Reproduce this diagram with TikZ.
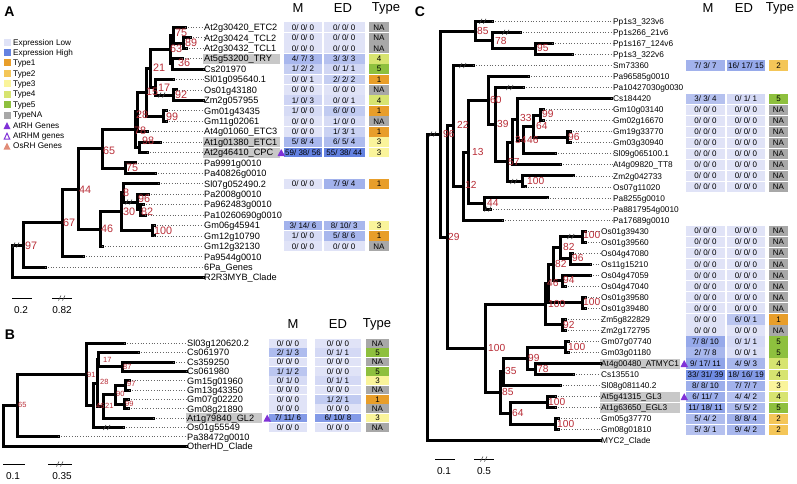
\documentclass[tikz,border=0pt]{standalone}
\usepackage{fontspec}
\setmainfont{Liberation Sans}
\definecolor{exlow}{RGB}{224,227,247}
\definecolor{exhigh}{RGB}{100,130,225}
\definecolor{type1}{RGB}{232,158,42}
\definecolor{type2}{RGB}{244,198,88}
\definecolor{type3}{RGB}{250,244,155}
\definecolor{type4}{RGB}{215,228,112}
\definecolor{type5}{RGB}{142,192,62}
\definecolor{typeNA}{RGB}{168,168,168}
\definecolor{nodered}{RGB}{185,45,55}
\definecolor{lgray}{RGB}{200,200,200}
\definecolor{triv}{RGB}{128,50,215}
\definecolor{osrh}{RGB}{225,140,120}
\newcommand{\tip}[5]{\node[tipcur] (#1) at (\labx,#4) {#5};\draw[br] (#2,#4) -- (#3,#4);\draw[dotl] (#3,#4) -- (#1.west);}
\newcommand{\vb}[3]{\draw[br] (#1,#2) -- (#1,#3);}
\newcommand{\hb}[3]{\draw[br] (#1,#3) -- (#2,#3);}
\newcommand{\gbox}[2]{\fill[lgray] (\labx-1.5,#1-5) rectangle (#2,#1+5);}
\newcommand{\rc}[6]{%
 \fill[exhigh!#3!exlow] (\mxa,#1-\hh) rectangle (\mxb,#1+\hh);
 \node[cell] at ({(\mxa+\mxb)/2},#1) {#2};
 \fill[exhigh!#5!exlow] (\exa,#1-\hh) rectangle (\exb,#1+\hh);
 \node[cell] at ({(\exa+\exb)/2},#1) {#4};
 \fill[type#6] (\txa,#1-\hh) rectangle (\txb,#1+\hh);
 \node[cell] at ({(\txa+\txb)/2},#1) {#6};}
\newcommand{\rz}[1]{\rc{#1}{0/ 0/ 0}{0}{0/ 0/ 0}{0}{NA}}
\newcommand{\nl}[3]{\node[nlcur] at (#1,#2) {#3};}
\newcommand{\brk}[2]{\draw[brkst] (#1-3.5,#2+2.5) -- (#1-1,#2-2.5) (#1+0.5,#2+2.5) -- (#1+3,#2-2.5);}
\newcommand{\lsq}[3]{\fill[#1] (3.5,#2-3.5) rectangle (10.5,#2+3.5);\node[leg] at (13,#2) {#3};}
\begin{document}
\begin{tikzpicture}[x=1pt,y=-1pt,
 br/.style={line width=3pt,line cap=rect},
 dotl/.style={line width=0.75pt,dash pattern=on 0.75pt off 2pt,black!60},
 brkst/.style={line width=0.6pt,black!75},
 tiplab/.style={anchor=west,inner sep=0pt,font=\fontsize{9.2}{10}\selectfont,text height=7.4pt,text depth=0.8pt},
 tiplabC/.style={tiplab,font=\fontsize{8.3}{10}\selectfont,text height=7pt},
 tipcur/.style={tiplab},
 nlA/.style={anchor=west,inner sep=0pt,text=nodered,font=\fontsize{10.8}{12}\selectfont},
 nlB/.style={nlA,font=\fontsize{7.5}{9}\selectfont},
 nlC/.style={nlA,font=\fontsize{10.2}{12}\selectfont},
 nlcur/.style={nlA},
 cell/.style={inner sep=0pt,font=\fontsize{8}{9}\selectfont,text height=5.7pt,text depth=0pt},
 leg/.style={anchor=west,inner sep=0pt,font=\fontsize{8.2}{9}\selectfont,text height=5.9pt,text depth=0pt},
 hdr/.style={inner sep=0pt,font=\fontsize{13}{15}\selectfont},
 plet/.style={inner sep=0pt,font=\bfseries\fontsize{14}{16}\selectfont},
 sbl/.style={inner sep=0pt,font=\fontsize{10}{12}\selectfont},
 sbar/.style={line width=0.7pt}]
\path[use as bounding box,fill=white] (0,0) rectangle (797,483);

% ================= Panel A =================
\node[plet] (pA) at (9.5,12) {A};
\lsq{exlow}{42.7}{Expression Low}
\lsq{exhigh}{52.7}{Expression High}
\lsq{type1}{62.7}{Type1}
\lsq{type2}{73.3}{Type2}
\lsq{type3}{83.7}{Type3}
\lsq{type4}{94}{Type4}
\lsq{type5}{104.7}{Type5}
\lsq{typeNA}{115}{TypeNA}
\fill[triv] (3.5,129.2) -- (10.5,129.2) -- (7,122.2) -- cycle; \node[leg] at (13,125.7) {AtRH Genes};
\draw[triv,line width=1pt] (4.2,139.2) -- (9.8,139.2) -- (7,133.2) -- cycle; \node[leg] at (13,136) {AtRHM genes};
\fill[osrh] (3.5,149.5) -- (10.5,149.5) -- (7,142.5) -- cycle; \node[leg] at (13,146) {OsRH Genes};

\node[hdr] (hAM) at (298,8) {M};
\node[hdr] (hAE) at (343,8) {ED};
\node[hdr] (hAT) at (386,8) {Type};

\def\labx{204}
\gbox{58.6}{280}\gbox{142.0}{280}\gbox{152.5}{280}
\vb{183}{37.7}{48.2}
\vb{173}{27.3}{43.0} \hb{173}{183}{43.0}
\vb{172}{58.6}{69.0}
\vb{170}{35.1}{63.8} \hb{170}{173}{35.1} \hb{170}{172}{63.8}
\vb{173}{89.9}{100.3}
\vb{155}{79.5}{95.1} \hb{155}{173}{95.1}
\vb{150}{49.5}{87.3} \hb{150}{170}{49.5} \hb{150}{155}{87.3}
\vb{163}{110.7}{121.2}
\vb{146}{68.4}{116.0} \hb{146}{150}{68.4} \hb{146}{163}{116.0}
\vb{137}{92.2}{131.6} \hb{137}{146}{92.2}
\vb{139}{142.0}{152.5}
\vb{135}{111.9}{147.3} \hb{135}{137}{111.9} \hb{135}{139}{147.3}
\vb{125}{162.9}{173.3}
\vb{102}{129.6}{168.1} \hb{102}{135}{129.6} \hb{102}{125}{168.1}
\vb{140}{204.6}{215.0}
\vb{137}{194.2}{209.8} \hb{137}{140}{209.8}
\vb{123}{183.8}{202.0} \hb{123}{137}{202.0}
\vb{152}{225.5}{235.9}
\vb{121}{192.9}{230.7} \hb{121}{123}{192.9} \hb{121}{152}{230.7}
\vb{100}{211.8}{246.3} \hb{100}{121}{211.8}
\vb{78}{148.9}{229.1} \hb{78}{102}{148.9} \hb{78}{100}{229.1}
\vb{62}{189.0}{256.8} \hb{62}{78}{189.0}
\vb{23}{222.9}{267.2} \hb{23}{62}{222.9}
\vb{12}{245.1}{277.6} \hb{12}{23}{245.1}
\tip{a0}{173}{185}{27.3}{At2g30420\_ETC2}
\tip{a1}{183}{190}{37.7}{At2g30424\_TCL2}
\tip{a2}{183}{186}{48.2}{At2g30432\_TCL1}
\tip{a3}{172}{182}{58.6}{At5g53200\_TRY}
\tip{a4}{172}{203}{69.0}{Cs201970}
\tip{a5}{155}{173}{79.5}{Sl01g095640.1}
\tip{a6}{173}{176}{89.9}{Os01g43180}
\tip{a7}{173}{203}{100.3}{Zm2g057955}
\tip{a8}{163}{166}{110.7}{Gm01g43435}
\tip{a9}{163}{166}{121.2}{Gm11g02061}
\tip{a10}{137}{147}{131.6}{At4g01060\_ETC3}
\tip{a11}{139}{160}{142.0}{At1g01380\_ETC1}
\tip{a12}{139}{147}{152.5}{At2g46410\_CPC}
\tip{a13}{125}{135}{162.9}{Pa9991g0010}
\tip{a14}{125}{155}{173.3}{Pa40826g0010}
\tip{a15}{123}{158}{183.8}{Sl07g052490.2}
\tip{a16}{137}{148}{194.2}{Pa2008g0010}
\tip{a17}{140}{143}{204.6}{Pa962483g0010}
\tip{a18}{140}{145}{215.0}{Pa10260690g0010}
\tip{a19}{152}{154}{225.5}{Gm06g45941}
\tip{a20}{152}{154}{235.9}{Gm12g10790}
\tip{a21}{100}{102}{246.3}{Gm12g32130}
\tip{a22}{62}{83}{256.8}{Pa9544g0010}
\tip{a23}{23}{45}{267.2}{6Pa\_Genes}
\tip{a24}{12}{203}{277.6}{R2R3MYB\_Clade}
\brk{16}{245.1}\brk{129}{202.0}\brk{162}{95.1}
\tikzset{nlcur/.style={nlA}}
\nl{175}{33}{75}\nl{185}{43}{89}\nl{170}{49}{63}\nl{178}{63}{36}
\nl{153}{68}{21}\nl{146}{92}{15}\nl{158}{88}{17}\nl{175}{95}{92}
\nl{166}{117}{99}\nl{136}{115}{28}\nl{134}{130.5}{78}\nl{142}{140.5}{98}
\nl{103}{151}{65}\nl{126}{168}{75}\nl{79}{190}{44}\nl{101}{229}{46}
\nl{123}{193}{8}\nl{138}{199}{96}\nl{123}{212}{30}\nl{141}{211.5}{82}
\nl{154}{231}{100}\nl{63}{223}{67}\nl{25}{246}{97}

\def\mxa{284}\def\mxb{322}\def\exa{323.5}\def\exb{365}\def\txa{369}\def\txb{389}\def\hh{4.9}
\rz{27.3}\rz{37.7}\rz{48.2}
\rc{58.6}{4/ 7/ 3}{45}{3/ 3/ 3}{35}{4}
\rc{69.0}{1/ 2/ 2}{22}{0/ 1/ 1}{12}{5}
\rc{79.5}{0/ 0/ 1}{5}{2/ 2/ 2}{22}{1}
\rz{89.9}
\rc{100.3}{1/ 0/ 3}{15}{0/ 0/ 1}{5}{4}
\rc{110.7}{1/ 0/ 0}{8}{6/ 0/ 0}{25}{1}
\rc{121.2}{0/ 0/ 0}{0}{1/ 0/ 0}{8}{NA}
\rc{131.6}{0/ 0/ 0}{0}{1/ 3/ 1}{18}{1}
\rc{142.0}{5/ 8/ 4}{45}{6/ 5/ 4}{40}{3}
\rc{152.5}{59/ 38/ 56}{100}{55/ 38/ 44}{100}{3}
\rc{183.8}{0/ 0/ 0}{0}{7/ 9/ 4}{50}{1}
\rc{225.5}{3/ 14/ 6}{50}{8/ 10/ 3}{45}{3}
\rc{235.9}{1/ 0/ 0}{8}{5/ 8/ 6}{45}{1}
\rz{246.3}
\fill[triv] (277.5,156) -- (285,156) -- (281.2,149) -- cycle;

\draw[sbar] (12,298) -- (32,298); \node[sbl] at (21,310) {0.2};
\draw[sbar] (52,298) -- (72,298); \brk{62}{298} \node[sbl] at (62,310) {0.82};

% ================= Panel B =================
\node[plet] (pB) at (10,335) {B};
\node[hdr] (hBM) at (293,324) {M};
\node[hdr] (hBE) at (338,324) {ED};
\node[hdr] (hBT) at (377,324) {Type};
\def\labx{187}
\gbox{418.0}{262}
\vb{122}{362.0}{371.3}
\vb{98}{352.6}{366.7} \hb{98}{122}{366.7}
\vb{125}{380.7}{390.0}
\vb{124}{399.3}{408.7}
\vb{115}{385.4}{404.0} \hb{115}{125}{385.4} \hb{115}{124}{404.0}
\vb{103}{394.7}{418.0} \hb{103}{115}{394.7}
\vb{97}{359.7}{406.4} \hb{97}{98}{359.7} \hb{97}{103}{406.4}
\vb{93}{383.0}{427.4} \hb{93}{97}{383.0}
\vb{86}{343.3}{405.2} \hb{86}{93}{405.2}
\vb{17}{374.3}{436.7} \hb{17}{86}{374.3}
\vb{3}{405.5}{446.0} \hb{3}{17}{405.5}
\tip{b0}{86}{124}{343.3}{Sl03g120620.2}
\tip{b1}{98}{138}{352.6}{Cs061970}
\tip{b2}{122}{173}{362.0}{Cs359250}
\tip{b3}{122}{186}{371.3}{Cs061980}
\tip{b4}{125}{129}{380.7}{Gm15g01960}
\tip{b5}{125}{129}{390.0}{Gm13g43350}
\tip{b6}{124}{128}{399.3}{Gm07g02220}
\tip{b7}{124}{128}{408.7}{Gm08g21890}
\tip{b8}{103}{153}{418.0}{At1g79840\_GL2}
\tip{b9}{93}{123}{427.4}{Os01g55549}
\tip{b10}{17}{58}{436.7}{Pa38472g0010}
\tip{b11}{3}{186}{446.0}{OtherHD\_Clade}
\brk{107}{427.4}
\tikzset{nlcur/.style={nlB}}
\nl{18}{405}{65}\nl{87}{375}{91}\nl{103}{360}{17}\nl{123}{367}{87}
\nl{100}{382}{28}\nl{127}{384}{97}\nl{116}{394}{90}\nl{125}{404}{99}
\nl{105}{406}{21}\nl{96}{406}{46}

\def\mxa{269}\def\mxb{307}\def\exa{315}\def\exb{361}\def\txa{366}\def\txb{389}\def\hh{4.3}
\rz{343.3}
\rc{352.6}{2/ 1/ 3}{40}{0/ 1/ 1}{10}{5}
\rz{362.0}
\rc{371.3}{1/ 1/ 2}{30}{0/ 0/ 0}{0}{5}
\rc{380.7}{0/ 1/ 0}{8}{0/ 1/ 1}{10}{3}
\rz{390.0}
\rc{399.3}{0/ 0/ 0}{0}{1/ 2/ 1}{25}{1}
\rz{408.7}
\rc{418.0}{7/ 11/ 6}{75}{6/ 10/ 8}{75}{3}
\rz{427.4}
\fill[triv] (263.5,421.5) -- (271,421.5) -- (267.2,414.5) -- cycle;

\draw[sbar] (3,464) -- (25,464); \node[sbl] at (13,476) {0.1};
\draw[sbar] (48,464) -- (72,464); \brk{60}{464} \node[sbl] at (62,476) {0.35};

% ================= Panel C =================
\node[plet] (pC) at (420,12) {C};
\node[hdr] (hCM) at (708,8) {M};
\node[hdr] (hCE) at (744,8) {ED};
\node[hdr] (hCT) at (780,8) {Type};
\tikzset{tipcur/.style={tiplabC}}
\def\labx{601}
\gbox{363.5}{680}\gbox{396.7}{680}\gbox{407.7}{680}
\vb{535}{43.4}{54.4}
\vb{492}{32.3}{48.9} \hb{492}{535}{48.9}
\vb{475}{21.3}{40.6} \hb{475}{492}{40.6}
\vb{540}{109.6}{120.7}
\vb{567}{131.7}{142.7}
\vb{533}{115.1}{137.2} \hb{533}{540}{115.1} \hb{533}{567}{137.2}
\vb{523}{126.2}{153.8} \hb{523}{533}{126.2}
\vb{517}{98.6}{140.0} \hb{517}{523}{140.0}
\vb{512}{119.3}{164.8} \hb{512}{517}{119.3}
\vb{522}{175.9}{186.9}
\vb{507}{142.0}{181.4} \hb{507}{512}{142.0} \hb{507}{522}{181.4}
\vb{495}{87.5}{161.7} \hb{495}{507}{161.7}
\vb{488}{76.5}{124.6} \hb{488}{495}{124.6}
\vb{484}{197.9}{209.0}
\vb{468}{100.5}{203.4} \hb{468}{488}{100.5} \hb{468}{484}{203.4}
\vb{463}{152.0}{220.0} \hb{463}{468}{152.0}
\vb{453}{65.5}{186.0} \hb{453}{463}{186.0}
\vb{582}{231.1}{242.1}
\vb{570}{253.1}{264.2}
\vb{560}{236.6}{258.6} \hb{560}{582}{236.6} \hb{560}{570}{258.6}
\vb{562}{275.2}{286.3}
\vb{553}{247.6}{280.7} \hb{553}{560}{247.6} \hb{553}{562}{280.7}
\vb{582}{297.3}{308.3}
\vb{548}{264.2}{302.8} \hb{548}{553}{264.2} \hb{548}{582}{302.8}
\vb{562}{319.4}{330.4}
\vb{545}{283.5}{324.9} \hb{545}{548}{283.5} \hb{545}{562}{324.9}
\vb{565}{341.5}{352.5}
\vb{535}{363.5}{374.6}
\vb{527}{347.0}{369.1} \hb{527}{565}{347.0} \hb{527}{535}{369.1}
\vb{503}{358.1}{385.6} \hb{503}{527}{358.1}
\vb{547}{396.7}{407.7}
\vb{555}{418.7}{429.8}
\vb{510}{402.2}{424.3} \hb{510}{547}{402.2} \hb{510}{555}{424.3}
\vb{500}{371.9}{413.2} \hb{500}{503}{371.9} \hb{500}{510}{413.2}
\vb{485}{304.2}{392.6} \hb{485}{545}{304.2} \hb{485}{500}{392.6}
\vb{447}{125.7}{348.4} \hb{447}{453}{125.7} \hb{447}{485}{348.4}
\vb{440}{31.0}{237.1} \hb{440}{475}{31.0} \hb{440}{447}{237.1}
\vb{427}{134.0}{440.8} \hb{427}{440}{134.0}
\def\labx{613}
\tip{c0}{475}{492}{21.3}{Pp1s3\_323v6}
\tip{c1}{492}{520}{32.3}{Pp1s266\_21v6}
\tip{c2}{535}{552}{43.4}{Pp1s167\_124v6}
\tip{c3}{535}{572}{54.4}{Pp1s3\_322v6}
\tip{c4}{453}{473}{65.5}{Sm73360}
\tip{c5}{488}{528}{76.5}{Pa96585g0010}
\tip{c6}{495}{523}{87.5}{Pa10427030g0030}
\tip{c7}{517}{611}{98.6}{Cs184420}
\tip{c8}{540}{543}{109.6}{Gm10g03140}
\tip{c9}{540}{543}{120.7}{Gm02g16670}
\tip{c10}{567}{570}{131.7}{Gm19g33770}
\tip{c11}{567}{570}{142.7}{Gm03g30940}
\tip{c12}{523}{555}{153.8}{Sl09g065100.1}
\tip{c13}{512}{560}{164.8}{At4g09820\_TT8}
\tip{c14}{522}{573}{175.9}{Zm2g042733}
\tip{c15}{522}{525}{186.9}{Os07g11020}
\tip{c16}{484}{547}{197.9}{Pa8255g0010}
\tip{c17}{484}{490}{209.0}{Pa8817954g0010}
\tip{c18}{463}{502}{220.0}{Pa17689g0010}
\def\labx{601}
\tip{c19}{582}{585}{231.1}{Os01g39430}
\tip{c20}{582}{585}{242.1}{Os01g39560}
\tip{c21}{570}{572}{253.1}{Os04g47080}
\tip{c22}{570}{590}{264.2}{Os11g15210}
\tip{c23}{562}{590}{275.2}{Os04g47059}
\tip{c24}{562}{565}{286.3}{Os04g47040}
\tip{c25}{582}{585}{297.3}{Os01g39580}
\tip{c26}{582}{585}{308.3}{Os01g39480}
\tip{c27}{562}{565}{319.4}{Zm5g822829}
\tip{c28}{562}{565}{330.4}{Zm2g172795}
\tip{c29}{565}{568}{341.5}{Gm07g07740}
\tip{c30}{565}{568}{352.5}{Gm03g01180}
\tip{c31}{535}{600}{363.5}{At4g00480\_ATMYC1}
\tip{c32}{535}{573}{374.6}{Cs135510}
\tip{c33}{503}{560}{385.6}{Sl08g081140.2}
\tip{c34}{547}{555}{396.7}{At5g41315\_GL3}
\tip{c35}{547}{555}{407.7}{At1g63650\_EGL3}
\tip{c36}{555}{558}{418.7}{Gm05g37770}
\tip{c37}{555}{558}{429.8}{Gm08g01810}
\tip{c38}{427}{600}{440.8}{MYC2\_Clade}
\brk{433}{134.0}\brk{483}{21.3}\brk{506}{32.3}\brk{463}{65.5}\brk{510}{87.5}
\brk{514}{181.4}\brk{488}{209.0}\brk{571}{236.6}
\tikzset{nlcur/.style={nlC}}
\nl{477}{31}{85}\nl{495}{41}{78}\nl{537}{48}{95}\nl{443}{134}{96}
\nl{457}{125}{22}\nl{490}{100}{60}\nl{497}{124}{39}\nl{520}{118}{33}
\nl{542}{114}{99}\nl{536}{126}{64}\nl{568}{137}{96}\nl{515}{140}{34}
\nl{527}{140}{46}\nl{472}{152}{13}\nl{508}{162}{57}\nl{527}{181}{100}
\nl{465}{185}{12}\nl{487}{203}{44}\nl{448}{237}{29}\nl{583}{235}{100}
\nl{563}{247}{82}\nl{572}{258}{96}\nl{555}{264}{82}\nl{563}{280}{94}
\nl{547}{283}{46}\nl{583}{302}{100}\nl{548}{304}{100}\nl{563}{325}{92}
\nl{488}{348}{100}\nl{568}{347}{100}\nl{528}{358}{99}\nl{537}{369}{78}
\nl{505}{371}{35}\nl{502}{392}{85}\nl{548}{402}{100}\nl{512}{413}{64}
\nl{557}{424}{100}

\def\mxa{686}\def\mxb{725}\def\exa{727}\def\exb{765}\def\txa{769}\def\txb{788}\def\hh{5.1}
\rc{65.5}{7/ 3/ 7}{50}{16/ 17/ 15}{60}{2}
\rc{98.6}{3/ 3/ 4}{35}{0/ 1/ 1}{10}{5}
\rz{109.6}\rz{120.7}\rz{131.7}\rz{142.7}\rz{153.8}\rz{164.8}\rz{175.9}\rz{186.9}
\rz{231.1}\rz{242.1}\rz{253.1}\rz{264.2}\rz{275.2}\rz{286.3}\rz{297.3}\rz{308.3}
\rc{319.4}{0/ 0/ 0}{0}{6/ 0/ 1}{30}{1}
\rz{330.4}
\rc{341.5}{7/ 8/ 10}{60}{0/ 1/ 1}{10}{5}
\rc{352.5}{2/ 7/ 8}{45}{0/ 0/ 1}{5}{5}
\rc{363.5}{9/ 17/ 11}{65}{4/ 9/ 3}{45}{4}
\rc{374.6}{33/ 31/ 39}{90}{18/ 16/ 19}{75}{4}
\rc{385.6}{8/ 8/ 10}{55}{7/ 7/ 7}{50}{3}
\rc{396.7}{6/ 11/ 7}{55}{4/ 4/ 2}{35}{4}
\rc{407.7}{11/ 18/ 11}{65}{5/ 5/ 2}{40}{5}
\rc{418.7}{5/ 4/ 2}{40}{8/ 8/ 4}{50}{2}
\rc{429.8}{5/ 3/ 1}{35}{9/ 4/ 2}{45}{2}
\fill[triv] (680.5,367) -- (688,367) -- (684.2,360) -- cycle;
\fill[triv] (680.5,400.2) -- (688,400.2) -- (684.2,393.2) -- cycle;

\draw[sbar] (435,459) -- (455,459); \node[sbl] at (444,471) {0.1};
\draw[sbar] (474,459) -- (494,459); \brk{484}{459} \node[sbl] at (484,471) {0.5};
\end{tikzpicture}
\end{document}
